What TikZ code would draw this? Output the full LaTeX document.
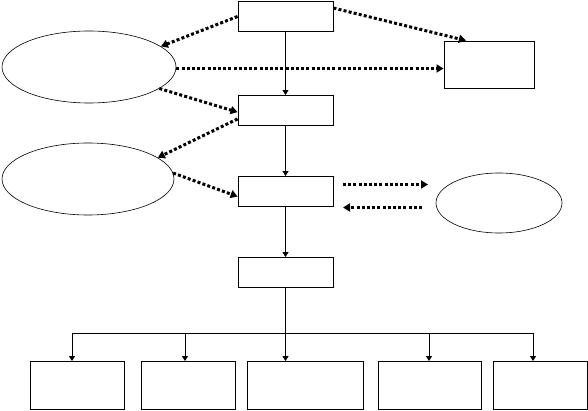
\documentclass[tikz,border=0pt]{standalone}
\usetikzlibrary{arrows.meta,shapes.geometric}
\begin{document}
\begin{tikzpicture}[x=1pt,y=-1pt,
  box/.style={draw,line width=0.9pt,inner sep=0pt},
  oval/.style={draw,ellipse,line width=0.6pt,inner sep=0pt},
  link/.style={line width=0.9pt,-{Triangle[length=5pt,width=6pt]}},
  dotlink/.style={line width=3pt,dash pattern=on 3pt off 2.2pt,-{Triangle[length=7pt,width=8pt]}}]
  \useasboundingbox (0,0) rectangle (588,411);
  % central column
  \node[box,minimum width=95pt,minimum height=30pt] (A) at (285.5,16.5) {};
  \node[box,minimum width=95pt,minimum height=30pt] (B) at (285.5,110.5) {};
  \node[box,minimum width=95pt,minimum height=30pt] (C) at (285.5,191.5) {};
  \node[box,minimum width=95pt,minimum height=30pt] (D) at (285.5,272.5) {};
  \node[box,minimum width=90pt,minimum height=47pt] (F) at (489,64.5) {};
  % ellipses
  \node[oval,minimum width=174pt,minimum height=72pt] (E1) at (89,67) {};
  \node[oval,minimum width=172pt,minimum height=72pt] (E2) at (88,179) {};
  \node[oval,minimum width=126pt,minimum height=60pt] (E3) at (499,203) {};
  % bottom row
  \node[box,minimum width=94pt,minimum height=48pt] (G1) at (77,385.5) {};
  \node[box,minimum width=94pt,minimum height=48pt] (G2) at (188,385.5) {};
  \node[box,minimum width=116pt,minimum height=48pt] (G3) at (305,385.5) {};
  \node[box,minimum width=103pt,minimum height=48pt] (G4) at (429.5,385.5) {};
  \node[box,minimum width=94pt,minimum height=48pt] (G5) at (540,385.5) {};
  % solid flow
  \draw[link] (A) -- (B);
  \draw[link] (B) -- (C);
  \draw[link] (C) -- (D);
  \draw[link] (D.south) -- (D.south |- G3.north);
  \coordinate (bus) at (285.5,333);
  \foreach \g/\dx in {G1/-5,G2/-3,G4/-0.5,G5/-7}
    \draw[link] (bus) -| ([xshift=\dx pt]\g.north);
  % dotted links
  \draw[dotlink] (A.west) -- (E1.16);
  \draw[dotlink] (A.10) -- (F.134);
  \draw[dotlink] ([yshift=-1.5pt]E1.east) -- ([yshift=-1.5pt]E1.east -| F.west);
  \draw[dotlink] (E1.-17) -- (B.182);
  \draw[dotlink] (B.190) -- (E2.17);
  \draw[dotlink] (E2.4) -- (C.186);
  \coordinate (p1) at (343,184.5);
  \coordinate (p2) at (428,184.5);
  \coordinate (q1) at (422,207.5);
  \coordinate (q2) at (343,207.5);
  \draw[dotlink] (p1) -- (p2);
  \draw[dotlink] (q1) -- (q2);
\end{tikzpicture}
\end{document}
